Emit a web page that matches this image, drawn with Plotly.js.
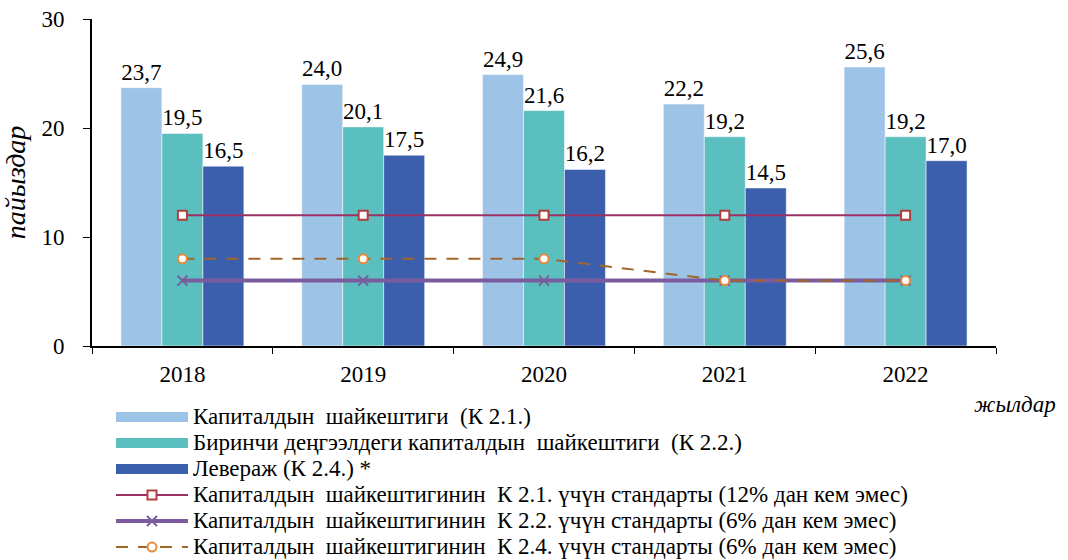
<!DOCTYPE html>
<html>
<head>
<meta charset="utf-8">
<script src="https://cdn.plot.ly/plotly-3.0.1.min.js"></script>
<style>
html, body { margin: 0; padding: 0; background: #fff; }
#chart { width: 1068px; height: 560px; }
#chart svg text { font-family: "Liberation Serif", "Times New Roman", serif !important; }
</style>
</head>
<body>
<div id="chart"></div>
<script>
const years = ['2018', '2019', '2020', '2021', '2022'];
const k21 = [23.7, 24.0, 24.9, 22.2, 25.6];
const k22 = [19.5, 20.1, 21.6, 19.2, 19.2];
const lev = [16.5, 17.5, 16.2, 14.5, 17.0];
const std21 = [12, 12, 12, 12, 12];
const std22 = [6, 6, 6, 6, 6];
const std24 = [8, 8, 8, 6, 6];
const names = [
  'Капиталдын  шайкештиги  (К 2.1.)',
  'Биринчи деңгээлдеги капиталдын  шайкештиги  (К 2.2.)',
  'Левераж (К 2.4.) *',
  'Капиталдын  шайкештигинин  К 2.1. үчүн стандарты (12% дан кем эмес)',
  'Капиталдын  шайкештигинин  К 2.2. үчүн стандарты (6% дан кем эмес)',
  'Капиталдын  шайкештигинин  К 2.4. үчүн стандарты (6% дан кем эмес)'
];
const barColors = ['#9DC3E6', '#5BBEBF', '#3C5FAD'];
const fmtVal = v => v.toFixed(1).replace('.', ',');
const FAM = 'Liberation Serif';
const FS = 23;
const legName = s => '<span style="font-size:' + FS + 'px">' + s.replace(/  /g, '\u00A0 ') + '</span>';

const traces = [];
[k21, k22, lev].forEach((vals, i) => {
  traces.push({
    type: 'bar', x: years, y: vals, name: names[i], showlegend: false, legendrank: 100,
    marker: {color: barColors[i], line: {color: 'rgba(255,255,255,0.5)', width: 1}},
    text: vals.map(fmtVal), textposition: 'outside', cliponaxis: false,
    outsidetextfont: {family: FAM, size: FS, color: '#000'},
    hoverinfo: 'skip'
  });
});
[0, 1, 2].forEach(i => {
  traces.push({
    type: 'scatter', mode: 'lines', x: [null], y: [null], name: legName(names[i]),
    line: {color: barColors[i], width: 15}, legendrank: i + 1
  });
});
traces.push({
  type: 'scatter', mode: 'lines+markers', x: years, y: std21, name: legName(names[3]), legendrank: 4,
  line: {color: '#9B3162', width: 2},
  marker: {symbol: 'square', size: 9, color: '#fff', line: {color: '#B0403E', width: 2}}
});
traces.push({
  type: 'scatter', mode: 'lines+markers', x: years, y: std22, name: legName(names[4]), legendrank: 5,
  line: {color: '#7A5C9E', width: 4},
  marker: {symbol: 'x-thin', size: 10, color: '#7A5C9E', line: {color: '#7A5C9E', width: 2}}
});
traces.push({
  type: 'scatter', mode: 'lines+markers', x: years, y: std24, name: legName(names[5]), legendrank: 6,
  line: {color: '#A0662A', width: 2, dash: '12px,10px'},
  marker: {symbol: 'circle', size: 9, color: '#fff', line: {color: '#E8883A', width: 2}}
});

const layout = {
  width: 1068, height: 560,
  margin: {l: 92, r: 72, t: 19, b: 214, autoexpand: false},
  paper_bgcolor: '#fff', plot_bgcolor: '#fff',
  font: {family: FAM, size: FS, color: '#000'},
  barmode: 'group', bargap: 0.32, bargroupgap: 0,
  showlegend: true,
  xaxis: {
    type: 'category', range: [-0.5, 4.5],
    showline: true, linecolor: '#000', linewidth: 2,
    ticks: 'outside', tickson: 'boundaries', ticklen: 6, tickcolor: '#000',
    ticklabelstandoff: 6, showgrid: false, zeroline: false
  },
  yaxis: {
    range: [0, 30], tickvals: [0, 10, 20, 30],
    showline: true, linecolor: '#000', linewidth: 2,
    ticks: 'outside', ticklen: 7, tickcolor: '#000',
    ticklabelstandoff: 14, showgrid: false, zeroline: false,
    title: {text: '<i>пайыздар</i>', standoff: 10}
  },
  legend: {
    orientation: 'v', x: 0.021, y: -0.162, xanchor: 'left', yanchor: 'top',
    font: {family: FAM, size: 17.7, color: '#000'},
    itemwidth: 72, tracegroupgap: 0, bgcolor: 'rgba(0,0,0,0)',
    traceorder: 'normal'
  },
  annotations: [{
    xref: 'paper', yref: 'paper', x: 1.0686, y: -0.18, xanchor: 'right', yanchor: 'middle',
    text: '<i>жылдар</i>', showarrow: false
  }]
};
Plotly.newPlot('chart', traces, layout, {displayModeBar: false, staticPlot: true});
</script>
</body>
</html>
